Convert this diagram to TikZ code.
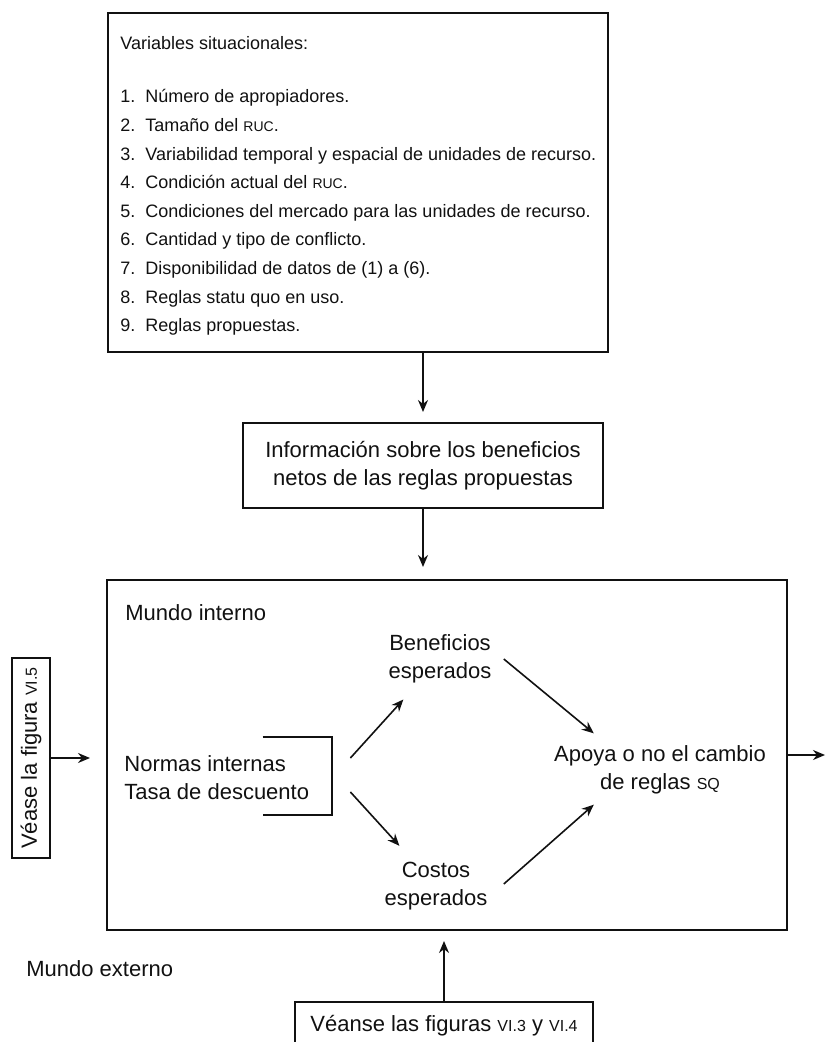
\documentclass[tikz,border=0pt]{standalone}
\usepackage{fontspec}
\setmainfont{Liberation Sans}
\usetikzlibrary{positioning,arrows.meta,calc}
\definecolor{tinta}{HTML}{111111}
\newcommand{\sca}[2][8]{{\fontsize{#1}{#1}\selectfont #2}}

\begin{document}
\begin{tikzpicture}[x=0.5pt, y=-0.5pt,
    caja/.style={draw=tinta, line width=1pt, inner sep=0pt},
    texto/.style={font=\fontsize{11}{14}\selectfont, text=tinta, inner sep=2pt},
    lista/.style={font=\fontsize{9}{11}\selectfont, text=tinta, inner sep=0pt, text height=7pt, text depth=2pt, anchor=west},
    flecha/.style={draw=tinta, line width=0.8pt, -{Stealth[length=6pt,width=5pt]}}]
  \useasboundingbox (0,0) rectangle (825,1042);
  % variables situacionales
  \node[caja, minimum width=250pt, minimum height=169.5pt] (vars) at (358,182.5) {};
  \node[lista] (titulo) at (120,45) {Variables situacionales:};
  \foreach \n/\t in {1/{Número de apropiadores.}, 2/{Tamaño del \sca[7]{RUC}.},
      3/{Variabilidad temporal y espacial de unidades de recurso.}, 4/{Condición actual del \sca[7]{RUC}.},
      5/{Condiciones del mercado para las unidades de recurso.}, 6/{Cantidad y tipo de conflicto.},
      7/{Disponibilidad de datos de (1) a (6).}, 8/{Reglas statu quo en uso.}, 9/{Reglas propuestas.}} {
    \pgfmathsetmacro{\y}{98+(\n-1)*28.6}
    \node[lista] (num\n) at (120,\y) {\n.};
    \node[lista] (item\n) at (145,\y) {\t};
  }
  \node[caja, texto, align=center, minimum width=180pt, minimum height=42.5pt] (info) at (423,465.5) {Información sobre los beneficios\\netos de las reglas propuestas};
  % mundo interno
  \node[caja, minimum width=340pt, minimum height=175pt] (mundo) at (447,755) {};
  \node[texto, anchor=west] (interno) at (121,613) {Mundo interno};
  \node[texto, anchor=west, align=left] (normas) at (120,778) {Normas internas\\Tasa de descuento};
  \node[minimum width=34.5pt, minimum height=39pt, inner sep=0pt] (corchete) at (297.5,776) {};
  \draw[caja] (corchete.north west) -| (corchete.south east) -- (corchete.south west);
  \node[texto, align=center] (benef) at (440,659) {Beneficios\\esperados};
  \node[texto, align=center] (costos) at (436,886) {Costos\\esperados};
  \node[texto, align=center] (apoya) at (660,770) {Apoya o no el cambio\\de reglas \sca{SQ}};
  % mundo externo
  \node[texto, anchor=west] (externo) at (22,969) {Mundo externo};
  \node[caja, texto, rotate=90, minimum width=100pt, minimum height=19pt] (vease) at (31,758) {Véase la figura \sca{VI.5}};
  \node[caja, texto, minimum width=149pt, minimum height=24pt] (veanse) at (444,1026) {Véanse las figuras \sca{VI.3} y \sca{VI.4}};
  \coordinate[right=18.5pt of mundo.east] (salida);
  \draw[flecha, shorten >=5pt] (info.north |- vars.south) -- (info.north);
  \draw[flecha, shorten >=6pt] (info.south) -- (info.south |- mundo.north);
  \draw[flecha, shorten >=8pt] (vease.south) -- (vease.south -| mundo.west);
  \draw[flecha] (mundo.east) -- (salida);
  \draw[flecha, shorten >=5pt] (veanse.north) -- (veanse.north |- mundo.south);
  \draw[flecha, shorten >=8pt] ([xshift=9pt,yshift=9pt]corchete.east) -- (benef);
  \draw[flecha, shorten >=8pt] ([xshift=9pt,yshift=-8pt]corchete.east) -- (costos);
  \draw[flecha] ([xshift=4pt]benef.east) -- ([xshift=22pt,yshift=4pt]apoya.north west);
  \draw[flecha] ([xshift=6pt,yshift=1pt]costos.east) -- ([xshift=22pt,yshift=-3pt]apoya.south west);
\end{tikzpicture}
\end{document}
